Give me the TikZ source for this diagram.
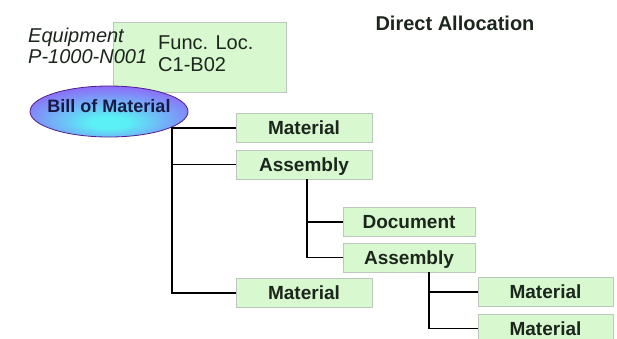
\documentclass[tikz,border=0pt]{standalone}
\usepackage{fontspec}
\setmainfont{Liberation Sans}
\usepackage{tikz}
\usetikzlibrary{positioning}
\usetikzlibrary{shapes.geometric}
\definecolor{boxfill}{RGB}{216,248,208}
\definecolor{boxline}{RGB}{188,200,188}
\definecolor{txtdark}{RGB}{28,38,28}
\definecolor{bomtxt}{RGB}{25,25,70}
\definecolor{bomin}{RGB}{90,240,245}
\definecolor{bomout}{RGB}{155,70,250}
\definecolor{bomedge}{RGB}{80,30,140}
\pgfdeclareradialshading{bomshade}{\pgfpoint{0bp}{-12bp}}{color(0bp)=(bomin); color(6bp)=(bomin); color(38bp)=(bomout); color(60bp)=(bomout)}
\newcommand{\boxfont}{\fontsize{19}{22}\selectfont\bfseries}

\begin{document}
\begin{tikzpicture}[x=1pt,y=-1pt,
    itembox/.style={draw=boxline,line width=0.6pt,fill=boxfill,text=txtdark,
      minimum width=136,minimum height=29,inner sep=0pt,
      text depth=0pt,font=\boxfont},
    branch/.style={draw=black,line width=1.8pt}]
  \clip (0,0) rectangle (617,338);

  % location box and equipment
  \node[draw=boxline,line width=0.6pt,fill=boxfill,minimum width=173,
    minimum height=70,inner sep=0pt] (floc) at (199.5,57) {};
  \node[anchor=west,align=left,inner sep=0pt,text=txtdark,
    font=\fontsize{20}{22}\selectfont] (flname) at (158,53.5) {Func. Loc.\\C1-B02};
  \node[anchor=west,align=left,inner sep=0pt,text=txtdark,
    font=\fontsize{20}{21}\selectfont\itshape] (equip) at (28,45.5) {Equipment\\P-1000-N001};
  \node[font=\fontsize{20}{22}\selectfont\bfseries,text=txtdark] (title) at (455,23) {Direct Allocation};

  % bill of material
  \node[ellipse,draw=bomedge,line width=0.8pt,shading=bomshade,
    minimum width=158,minimum height=51,inner sep=0pt,
    label={[text=bomtxt,font=\fontsize{18}{20}\selectfont\bfseries,
      yshift=5.5,inner sep=0pt]center:Bill of Material}] (bom) at (109,111.5) {};

  \node[itembox] (m1) at (304,128) {Material};
  \node[itembox] (a1) at (304,164.5) {Assembly};
  \node[itembox] (m3) at (304,293) {Material};
  \node[itembox,minimum width=132] (d1) at (409,222) {Document};
  \node[itembox,minimum width=132] (a2) at (409,257.5) {Assembly};
  \node[itembox,minimum width=135] (m4) at (545.5,292) {Material};
  \node[itembox,minimum width=135] (m5) at (545.5,328.5) {Material};

  \coordinate (j1) at ([xshift=-64]m1.west);
  \draw[branch] (m1.west) -- (j1) |- (m3.west);
  \draw[branch] (a1.west) -- (a1.west -| j1);
  \coordinate (j2) at ([xshift=3]a1.south);
  \draw[branch] (j2) |- (a2.west);
  \draw[branch] (j2 |- d1.west) -- (d1.west);
  \coordinate (j3) at ([xshift=20]a2.south);
  \draw[branch] (j3) |- (m5.west);
  \draw[branch] (j3 |- m4.west) -- (m4.west);
\end{tikzpicture}
\end{document}
